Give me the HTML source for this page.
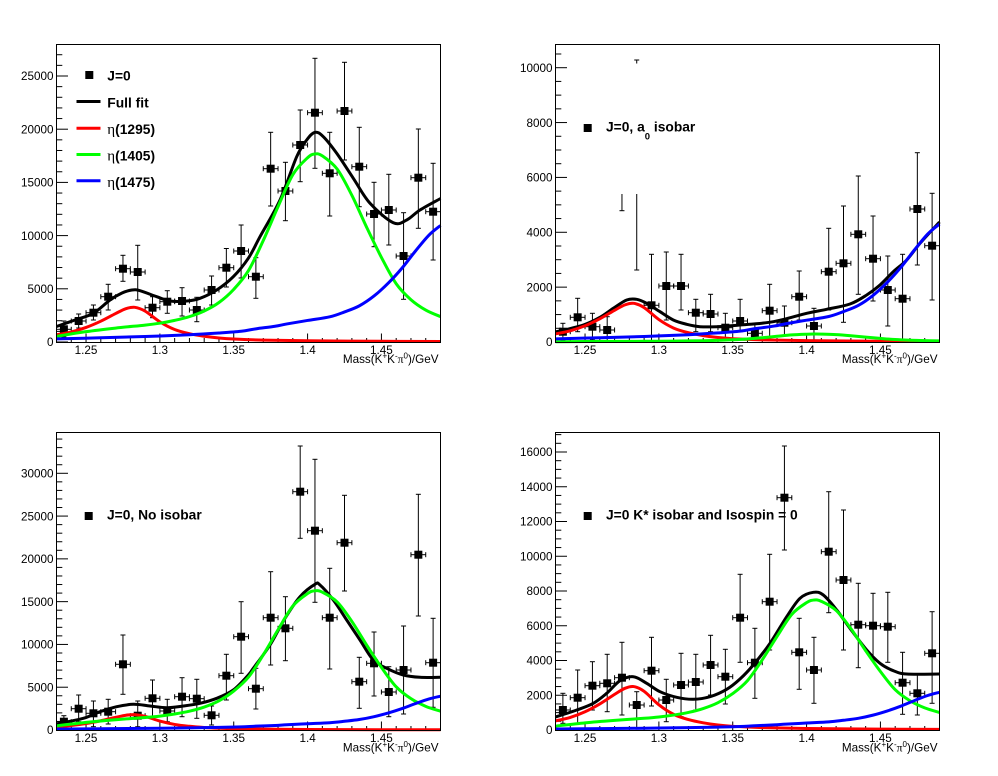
<!DOCTYPE html>
<html><head><meta charset="utf-8">
<style>
html,body{margin:0;padding:0;background:#fff;}
svg{display:block;}
text{font-family:"Liberation Sans",Arial,sans-serif;fill:#000;}
.tl{font-size:11.7px;}
.lg{font-size:13.8px;font-weight:bold;}
.gr{font-family:"Liberation Serif",serif;font-weight:normal;}
</style></head><body>
<svg id="c" width="998" height="776" viewBox="0 0 998 776" xmlns="http://www.w3.org/2000/svg">
<rect width="998" height="776" fill="#fff"/>
<g id="dyn"></g>

<!-- Pad 1 y labels -->
<g class="tl" text-anchor="end">
<text x="53.5" y="346.2">0</text>
<text x="53.5" y="293">5000</text>
<text x="53.5" y="239.8">10000</text>
<text x="53.5" y="186.6">15000</text>
<text x="53.5" y="133.4">20000</text>
<text x="53.5" y="80.2">25000</text>
</g>
<!-- Pad 2 y labels -->
<g class="tl" text-anchor="end">
<text x="552.5" y="346.2">0</text>
<text x="552.5" y="291.3">2000</text>
<text x="552.5" y="236.5">4000</text>
<text x="552.5" y="181.6">6000</text>
<text x="552.5" y="126.8">8000</text>
<text x="552.5" y="71.9">10000</text>
</g>
<!-- Pad 3 y labels -->
<g class="tl" text-anchor="end">
<text x="53.5" y="734.2">0</text>
<text x="53.5" y="691.4">5000</text>
<text x="53.5" y="648.6">10000</text>
<text x="53.5" y="605.8">15000</text>
<text x="53.5" y="563.1">20000</text>
<text x="53.5" y="520.3">25000</text>
<text x="53.5" y="477.5">30000</text>
</g>
<!-- Pad 4 y labels -->
<g class="tl" text-anchor="end">
<text x="552.5" y="734.2">0</text>
<text x="552.5" y="699.5">2000</text>
<text x="552.5" y="664.7">4000</text>
<text x="552.5" y="630">6000</text>
<text x="552.5" y="595.2">8000</text>
<text x="552.5" y="560.5">10000</text>
<text x="552.5" y="525.7">12000</text>
<text x="552.5" y="491">14000</text>
<text x="552.5" y="456.2">16000</text>
</g>

<!-- X labels -->
<g class="tl" text-anchor="middle">
<text x="86" y="354">1.25</text><text x="159.9" y="354">1.3</text><text x="233.7" y="354">1.35</text><text x="307.6" y="354">1.4</text><text x="381.4" y="354">1.45</text>
<text x="585" y="354">1.25</text><text x="658.9" y="354">1.3</text><text x="732.7" y="354">1.35</text><text x="806.6" y="354">1.4</text><text x="880.4" y="354">1.45</text>
<text x="86" y="742">1.25</text><text x="159.9" y="742">1.3</text><text x="233.7" y="742">1.35</text><text x="307.6" y="742">1.4</text><text x="381.4" y="742">1.45</text>
<text x="585" y="742">1.25</text><text x="658.9" y="742">1.3</text><text x="732.7" y="742">1.35</text><text x="806.6" y="742">1.4</text><text x="880.4" y="742">1.45</text>
</g>

<!-- X titles -->
<g class="tl" text-anchor="end">
<text x="438.5" y="363">Mass(K<tspan dy="-4.5" font-size="8">+</tspan><tspan dy="4.5">K</tspan><tspan dy="-4.5" font-size="8">-</tspan><tspan dy="4.5" class="gr">π</tspan><tspan dy="-4.5" font-size="8">0</tspan><tspan dy="4.5">)/GeV</tspan></text>
<text x="937.5" y="363">Mass(K<tspan dy="-4.5" font-size="8">+</tspan><tspan dy="4.5">K</tspan><tspan dy="-4.5" font-size="8">-</tspan><tspan dy="4.5" class="gr">π</tspan><tspan dy="-4.5" font-size="8">0</tspan><tspan dy="4.5">)/GeV</tspan></text>
<text x="438.5" y="751.5">Mass(K<tspan dy="-4.5" font-size="8">+</tspan><tspan dy="4.5">K</tspan><tspan dy="-4.5" font-size="8">-</tspan><tspan dy="4.5" class="gr">π</tspan><tspan dy="-4.5" font-size="8">0</tspan><tspan dy="4.5">)/GeV</tspan></text>
<text x="937.5" y="751.5">Mass(K<tspan dy="-4.5" font-size="8">+</tspan><tspan dy="4.5">K</tspan><tspan dy="-4.5" font-size="8">-</tspan><tspan dy="4.5" class="gr">π</tspan><tspan dy="-4.5" font-size="8">0</tspan><tspan dy="4.5">)/GeV</tspan></text>
</g>

<!-- Legends -->
<rect x="85.3" y="71" width="8" height="8" fill="#000"/>
<line x1="76.5" y1="101.5" x2="100.5" y2="101.5" stroke="#000" stroke-width="3"/>
<line x1="76.5" y1="128.3" x2="100.5" y2="128.3" stroke="#ff0000" stroke-width="3"/>
<line x1="76.5" y1="154.5" x2="100.5" y2="154.5" stroke="#00ff00" stroke-width="3"/>
<line x1="76.5" y1="180.7" x2="100.5" y2="180.7" stroke="#0000ff" stroke-width="3"/>
<g class="lg">
<text x="107.3" y="80.7">J=0</text>
<text x="107.3" y="107.3">Full fit</text>
<text x="107.3" y="134"><tspan class="gr" font-size="15">η</tspan>(1295)</text>
<text x="107.3" y="160.4"><tspan class="gr" font-size="15">η</tspan>(1405)</text>
<text x="107.3" y="186.8"><tspan class="gr" font-size="15">η</tspan>(1475)</text>
</g>

<rect x="583.7" y="124" width="8" height="8" fill="#000"/>
<text class="lg" x="606" y="131.5">J=0, a<tspan dy="8" font-size="9.5">0</tspan><tspan dy="-8"> isobar</tspan></text>

<rect x="84.7" y="512" width="8" height="8" fill="#000"/>
<text class="lg" x="107" y="519.5">J=0, No isobar</text>

<rect x="583.7" y="512" width="8" height="8" fill="#000"/>
<text class="lg" x="606" y="519.5">J=0 K* isobar and Isospin = 0</text>
</svg>
<script>
(function(){
const NS="http://www.w3.org/2000/svg";
const g=document.getElementById('dyn');
function el(tag,attrs){const e=document.createElementNS(NS,tag);for(const k in attrs)e.setAttribute(k,attrs[k]);g.appendChild(e);return e;}
function line(x1,y1,x2,y2,c,w){el('line',{x1:x1,y1:y1,x2:x2,y2:y2,stroke:c||'#000','stroke-width':w||1});}
function crPath(pts){
 let d='M'+pts[0][0].toFixed(2)+','+pts[0][1].toFixed(2);
 for(let i=0;i<pts.length-1;i++){
  const p0=pts[i-1]||pts[i],p1=pts[i],p2=pts[i+1],p3=pts[i+2]||pts[i+1];
  const c1x=p1[0]+(p2[0]-p0[0])/6,c1y=p1[1]+(p2[1]-p0[1])/6;
  const c2x=p2[0]-(p3[0]-p1[0])/6,c2y=p2[1]-(p3[1]-p1[1])/6;
  d+=' C'+[c1x,c1y,c2x,c2y,p2[0],p2[1]].map(v=>v.toFixed(2)).join(',');
 }
 return d;
}
const RED=[[1.23,0.21],[1.24,0.29],[1.25,0.42],[1.26,0.60],[1.27,0.82],[1.277,0.96],[1.283,1.0],[1.29,0.89],[1.30,0.58],[1.31,0.36],[1.32,0.24],[1.33,0.165],[1.34,0.115],[1.35,0.085],[1.37,0.055],[1.40,0.035],[1.45,0.02],[1.49,0.015]];
const GREEN=[[1.23,0.030],[1.25,0.055],[1.27,0.074],[1.29,0.09],[1.30,0.10],[1.31,0.115],[1.32,0.135],[1.33,0.165],[1.34,0.21],[1.35,0.28],[1.36,0.38],[1.37,0.54],[1.38,0.72],[1.39,0.89],[1.40,0.98],[1.405,1.0],[1.41,0.99],[1.42,0.92],[1.43,0.78],[1.44,0.61],[1.45,0.45],[1.46,0.31],[1.47,0.225],[1.48,0.17],[1.49,0.135]];
const BLUE=[[1.23,0.027],[1.26,0.036],[1.29,0.047],[1.32,0.062],[1.34,0.077],[1.355,0.092],[1.365,0.113],[1.378,0.135],[1.386,0.155],[1.40,0.185],[1.415,0.216],[1.425,0.258],[1.435,0.31],[1.445,0.395],[1.455,0.51],[1.464,0.635],[1.473,0.78],[1.482,0.915],[1.49,1.0]];
const pads=[
{L:56.5,R:440.5,T:44.5,B:342.5,y0:342,k:0.01064,ymax:27960,maj:5000,mn:1000,sc:[3260,17670,10950],
 black:[[56.5,326.5],[75,320],[93.3,313.3],[110,300],[122,293],[132,290],[140,290.7],[156.7,296.7],[170,301],[186.7,301],[200,298.3],[216.7,290],[233.3,276.7],[248.3,258.3],[260,236.7],[280,200],[296.7,156.7],[306.7,140],[315,132.3],[323.3,136.7],[336.7,153.3],[353.3,178.3],[370,203.3],[393.3,222.7],[406.7,220],[420,210],[440.5,198.5]],
 pts:[[329.3,321,337],[321,314,328],[312.7,305,320],[296.7,284.3,310],[268.7,255.3,281.3],[272,245.3,300],[307.7,296.7,317.7],[301.7,290.7,313.3],[301,287.7,316],[310,297.3,321.7],[290,276,305],[267.7,248.5,287],[251,225,278],[276.7,257.7,298.3],[168.7,132.3,206],[191,162.3,220.7],[145,110,181.7],[112.7,58.3,168.3],[173.3,132.3,216],[111,62.3,160],[166.7,127.3,206.7],[214,182.3,246.7],[210,174.3,245],[256,212.7,299.3],[177.7,129,228.3],[211.7,163.3,260]]},
{L:555.5,R:939.5,T:44.5,B:342.5,y0:342,k:0.02743,ymax:10846,maj:2000,mn:500,sc:[1410,290,4300],
 black:[[555.5,332],[583.3,325],[600,317.3],[613.3,308.3],[626.7,300],[636.7,299.3],[646.7,303.3],[660,311.7],[673.3,320],[686.7,324.3],[700,326.7],[716.7,326.7],[740,325],[773.3,321.7],[806.7,313.3],[826.7,309.3],[850,304],[866.7,295],[880,285],[893.3,271.7],[906.7,260],[920,243.3],[939.5,222]],
 pts:[[331.7,323.3,340],[317.3,298.3,331.7],[326.7,313.3,340],[330,316.7,341.7],null,null,[305.3,254.3,342],[286,252,320],[286,254.3,310],[312.7,299.3,331.7],[314,294.3,331.7],[327.7,313.3,340],[321,299.3,331.7],[333.3,323.3,340],[310.7,284.3,336.7],[322.7,306,335],[296.7,271,320],[326,308.3,340],[271.7,228.3,310],[263.3,206,322.3],[234.3,176,294.3],[258.7,216,301],[290,256,326],[298.7,254.3,342],[209,152.7,265],[245.7,193.3,300]]},
{L:56.5,R:440.5,T:432.5,B:730.5,y0:730,k:0.008557,ymax:34767,maj:5000,mn:1000,sc:[1800,16270,3950],
 black:[[56.5,724],[83.3,718.3],[100,711.7],[116.7,706.7],[133.3,704.3],[150,706],[166.7,707.7],[183.3,706],[200,703.3],[216.7,698.3],[233.3,690],[248.3,675],[253.3,668.3],[270,645],[285,618.3],[300,596.7],[315,584.3],[320,585],[333.3,600],[346.7,620],[360,640],[373.3,660],[386.7,668.3],[403.3,675],[420,677.3],[440.5,677.3]],
 pts:[[721.7,715.7,728.3],[708.7,695,721.7],[713.3,701,726.7],[711.7,699.3,724],[664.3,635,694.3],[715.7,701,726.7],[698.3,680,716.7],[711,699.3,721.7],[696.7,677.7,716.7],[698.7,679.3,718.3],[715.3,706,725],[675.7,654.3,700],[636.7,601.7,673.3],[688.7,668.3,709],[617.7,571.7,665],[628.3,596.7,660.7],[491.7,446,538.3],[530.7,459.3,602.3],[617.7,568.3,669],[542.7,495.3,591],[681.7,657.3,708.3],[663.3,632,696],[692,666.7,716.7],[670,626,714],[554.7,494.3,616],[662.7,618.3,707.3]]},
{L:555.5,R:939.5,T:432.5,B:730.5,y0:730,k:0.017375,ymax:17122,maj:2000,mn:500,sc:[2500,7480,2170],
 black:[[555.5,717],[576.7,710],[593.3,703.3],[606.7,693.3],[620,680.7],[633.3,676.7],[646.7,683.3],[660,691.7],[676.7,697.3],[693.3,699.3],[710,696.7],[726.7,689.3],[740,679],[753.3,665],[770,643.3],[786.7,616.7],[800,598.3],[813.3,592.3],[823.3,595],[836.7,610],[850,628.3],[866.7,650],[880,663.3],[893.3,670.7],[906.7,674],[939.5,674]],
 pts:[[710,693.3,723.3],[697.7,670,723.3],[685.7,661.7,710],[683.3,654.3,711.7],[677.7,642.3,715],[705,691.7,728.3],[670.7,637.3,706],[700,679.3,721.7],[685,653.3,716.7],[682,654.3,710],[665,635.3,695],[676.7,649.3,704],[617.7,574.3,662.3],[662.7,628.3,698.3],[601.7,554.3,650],[497.7,446,550],[652.3,618.3,689.3],[670,637.3,703.3],[551.7,491.7,612.7],[580,510,650],[624.7,583.3,667.7],[625.7,593.3,660],[626.7,592.3,662.3],[682.7,652.3,714.3],[693.3,675,715],[653.3,611.7,703.3]]}
];
pads.forEach((p,pi)=>{
 const W=p.R-p.L;
 // x ticks
 for(let i=1;i<26;i++){
  const x=p.L+i*W/26; const maj=(i%5===2);
  line(x,p.B,x,p.B-(maj?9:4.5));
 }
 // y ticks
 for(let v=0;v<=p.ymax+0.1;v+=p.mn){
  const y=p.y0-v*p.k; if(y<p.T) break;
  const maj=(Math.abs(v%p.maj)<0.5);
  line(p.L,y,p.L+(maj?11.5:5.8),y);
 }
 // data points
 p.pts.forEach((d,i)=>{
  const x=p.L+7.385+14.769*i;
  if(!d) return;
  const [ym,t,b]=d;
  const bb=Math.min(b,p.B-0.5);
  line(x,t,x,bb);
  line(x-2.5,t,x+2.5,t);
  if(b<p.B-1) line(x-2.5,b,x+2.5,b);
  line(x-7.385,ym,x+7.385,ym);
  line(x-7.385,ym-2.5,x-7.385,ym+2.5);
  line(x+7.385,ym-2.5,x+7.385,ym+2.5);
  el('rect',{x:x-4,y:ym-4,width:8,height:8,fill:'#000'});
 });
 if(pi===1){
  const x4=p.L+7.385+14.769*4, x5=p.L+7.385+14.769*5;
  line(x4,194,x4,210.7); line(x4-2.5,210.7,x4+2.5,210.7);
  line(x5,194,x5,270); line(x5-2.5,270,x5+2.5,270);
  line(x5-2.5,60,x5+2.5,60); line(x5,60,x5,63.5);
 }
 // curves
 el('path',{d:crPath(p.black),fill:'none',stroke:'#000','stroke-width':3,'stroke-linejoin':'round'});
 const comps=[[RED,'#ff0000',p.sc[0]],[GREEN,'#00ff00',p.sc[1]],[BLUE,'#0000ff',p.sc[2]]];
 comps.forEach(([tab,col,s])=>{
  const pts=tab.map(([v,f])=>[p.L+(v-1.23)/0.26*W,p.y0-f*s*p.k]);
  el('path',{d:crPath(pts),fill:'none',stroke:col,'stroke-width':3,'stroke-linejoin':'round'});
 });
 // frame
 el('rect',{x:p.L,y:p.T,width:W,height:p.B-p.T,fill:'none',stroke:'#000','stroke-width':1});
});
})();
</script>
</body></html>
